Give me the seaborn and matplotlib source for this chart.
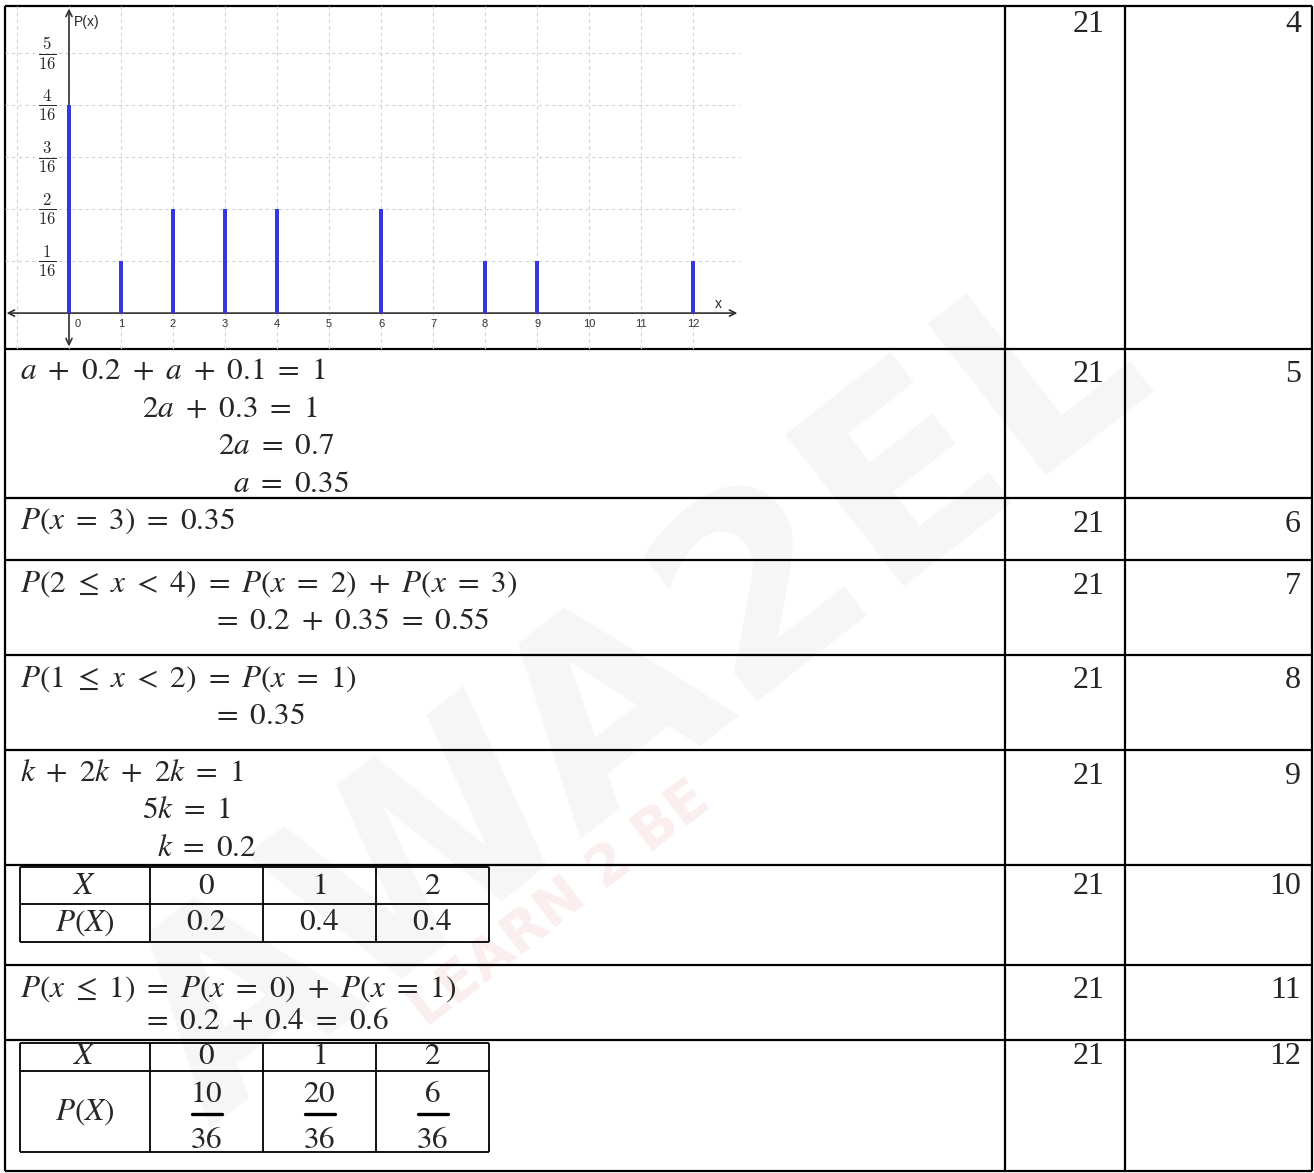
import matplotlib
matplotlib.use("Agg")
import matplotlib.pyplot as plt
import seaborn as sns
import numpy as np
import pandas as pd

# ---------------- data ----------------
x_values = [0, 1, 2, 3, 4, 6, 8, 9, 12]
p_numerators = [4, 1, 2, 2, 2, 2, 1, 1, 1]
p_denominator = 16
x_tick_labels = [str(i) for i in range(13)]
y_tick_numerators = [1, 2, 3, 4, 5]

year_labels = ["21"] * 9
question_labels = ["4", "5", "6", "7", "8", "9", "10", "11", "12"]

row5_lines = ["a + 0.2 + a + 0.1 = 1", "2a + 0.3 = 1", "2a = 0.7", "a = 0.35"]
row6_lines = ["P(x = 3) = 0.35"]
row7_lines = [r"P(2 \leq x < 4) = P(x = 2) + P(x = 3)", "= 0.2 + 0.35 = 0.55"]
row8_lines = [r"P(1 \leq x < 2) = P(x = 1)", "= 0.35"]
row9_lines = ["k + 2k + 2k = 1", "5k = 1", "k = 0.2"]
row11_lines = [r"P(x \leq 1) = P(x = 0) + P(x = 1)", "= 0.2 + 0.4 = 0.6"]

t10_header = ["X", "0", "1", "2"]
t10_values = ["P(X)", "0.2", "0.4", "0.4"]
t12_header = ["X", "0", "1", "2"]
t12_rowlabel = "P(X)"
t12_numerators = ["10", "20", "6"]
t12_denominators = ["36", "36", "36"]

# ---------------- layout ----------------
W, H = 1314, 1173
sns.set_theme(style="white")
plt.rcParams["font.family"] = ["Liberation Serif", "DejaVu Sans"]

fig = plt.figure(figsize=(W / 100, H / 100), dpi=100)
fig.patch.set_facecolor("white")
tab = fig.add_axes([0, 0, 1, 1])
tab.set_xlim(0, W)
tab.set_ylim(H, 0)
tab.axis("off")

# watermark (very faint)
tab.text(640, 700, "AWA2EL", rotation=38, fontsize=190, fontweight="black",
         family="DejaVu Sans", color="#f6f6f6", ha="center", va="center", zorder=0)
tab.text(560, 905, "LEARN 2 BE", rotation=38, fontsize=40, fontweight="black",
         family="DejaVu Sans", color="#fbeeee", ha="center", va="center", zorder=0)

LW = 1.6
row_lines_y = [6, 349, 498, 560, 655, 750, 865, 965, 1040, 1171]
col_lines_x = [5, 1005, 1125, 1312]
tab.hlines(row_lines_y, 5, 1312, color="black", lw=LW, zorder=2)
tab.vlines(col_lines_x, 6, 1171, color="black", lw=LW, zorder=2)

NF = 23
number_y = [24, 374, 524, 586, 681, 776, 886, 990, 1057]
for yy, yr, q in zip(number_y, year_labels, question_labels):
    tab.text(1104, yy, yr, ha="right", va="center", fontsize=NF,
             family="Liberation Serif", zorder=3)
    tab.text(1301, yy, q, ha="right", va="center", fontsize=NF,
             family="Liberation Serif", zorder=3)

MF = 22.5
def m(s):
    return "$" + s.replace(" ", r"\ ") + "$"

def put_lines(lines, xs, ys):
    for s, xx, yy in zip(lines, xs, ys):
        tab.text(xx, yy, m(s), ha="left", va="center", fontsize=MF,
                 math_fontfamily="stix", zorder=3)

put_lines(row5_lines, [20, 142, 218, 233], [372, 409, 447, 485])
put_lines(row6_lines, [20], [521])
put_lines(row7_lines, [20, 212], [584, 621])
put_lines(row8_lines, [20, 212], [679, 717])
put_lines(row9_lines, [20, 142, 157], [774, 811, 848])
put_lines(row11_lines, [20, 142], [989, 1022])

# inner table 1
cx = [20, 150, 263, 376, 489]
centers = [(cx[i] + cx[i + 1]) / 2 for i in range(4)]
tab.hlines([867, 904, 942], cx[0], cx[-1], color="black", lw=1.3, zorder=2)
tab.vlines(cx, 867, 942, color="black", lw=1.3, zorder=2)
for c, h, v in zip(centers, t10_header, t10_values):
    tab.text(c, 886, m(h), ha="center", va="center", fontsize=MF, math_fontfamily="stix", zorder=3)
    tab.text(c, 923, m(v), ha="center", va="center", fontsize=MF, math_fontfamily="stix", zorder=3)

# inner table 2
tab.hlines([1043, 1071, 1152], cx[0], cx[-1], color="black", lw=1.3, zorder=2)
tab.vlines(cx, 1043, 1152, color="black", lw=1.3, zorder=2)
for c, h in zip(centers, t12_header):
    tab.text(c, 1057, m(h), ha="center", va="center", fontsize=MF, math_fontfamily="stix", zorder=3)
tab.text(centers[0], 1112, m(t12_rowlabel), ha="center", va="center", fontsize=MF,
         math_fontfamily="stix", zorder=3)
for c, n, d in zip(centers[1:], t12_numerators, t12_denominators):
    tab.text(c, 1094, m(n), ha="center", va="center", fontsize=MF, math_fontfamily="stix", zorder=3)
    tab.text(c, 1140, m(d), ha="center", va="center", fontsize=MF, math_fontfamily="stix", zorder=3)
    tab.plot([c - 15, c + 15], [1114, 1114], color="black", lw=2.4, zorder=3)

# ---------------- chart ----------------
ax = fig.add_axes([5 / W, (H - 349) / H, 735 / W, 343 / H])
ax.patch.set_alpha(0)
df = pd.DataFrame({"x": x_values, "p": np.array(p_numerators) / p_denominator})
sns.barplot(data=df, x="x", y="p", native_scale=True, width=0.065, color="#3636e2",
            saturation=1, errorbar=None, linewidth=0, ax=ax, zorder=4)
ax.set_xlim(-1.23, 12.9)
ax.set_ylim(-0.69 / 16, 5.9 / 16)
ax.set_xticks([])
ax.set_yticks([])
ax.set_xlabel("")
ax.set_ylabel("")
for sp in ax.spines.values():
    sp.set_visible(False)

grid_kw = dict(color="#d2d2d2", lw=0.8, ls=(0, (3, 3)), zorder=0)
for gx in range(-1, 13):
    ax.axvline(gx, **grid_kw)
for k in y_tick_numerators:
    ax.axhline(k / p_denominator, **grid_kw)

arrow_kw = dict(arrowstyle="<->", color="#303030", lw=1.2, mutation_scale=11,
                shrinkA=0, shrinkB=0)
ax.annotate("", xy=(12.85, 0), xytext=(-1.2, 0), arrowprops=arrow_kw, zorder=2)
ax.annotate("", xy=(0, 5.85 / 16), xytext=(0, -0.64 / 16), arrowprops=arrow_kw, zorder=2)

for i, lab in enumerate(x_tick_labels):
    ax.text(i + (0.1 if i == 0 else 0), -0.21 / 16, lab,
            ha="left" if i == 0 else "center", va="center",
            fontsize=8, color="#333333", family="Liberation Sans")
for k in y_tick_numerators:
    ax.text(-0.42, k / p_denominator, rf"$\frac{{{k}}}{{{p_denominator}}}$",
            math_fontfamily="cm", fontsize=17, ha="center", va="center")
ax.text(0.1, 5.6 / 16, "P(x)", fontsize=10, family="Liberation Sans", ha="left", va="center")
ax.text(12.48, 0.17 / 16, "x", fontsize=10, family="Liberation Sans", ha="center", va="center")

fig.savefig("out.png", dpi=100)
